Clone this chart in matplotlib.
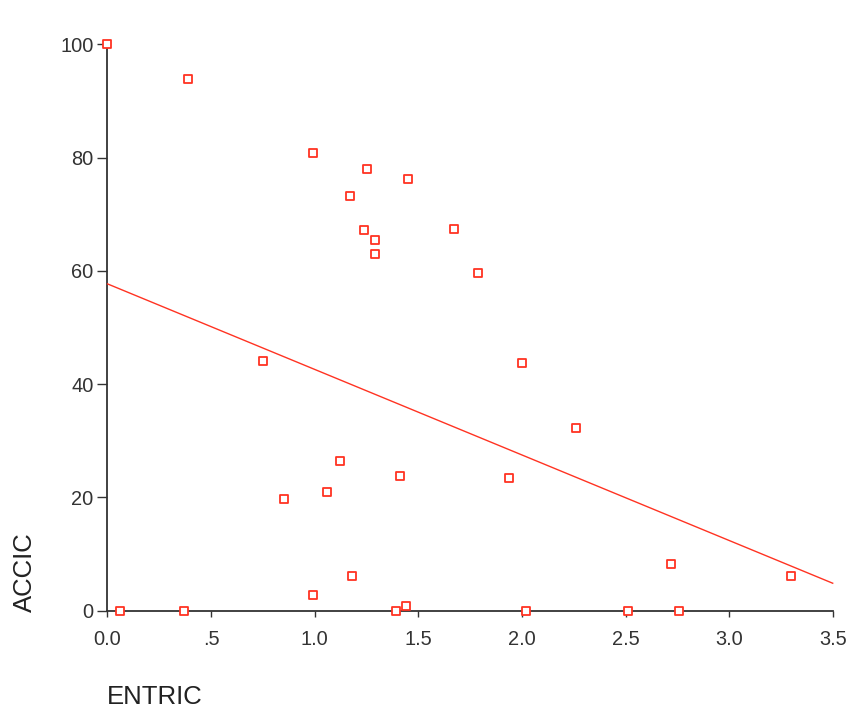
import numpy as np
import matplotlib
matplotlib.use("Agg")
import matplotlib.pyplot as plt

# valeurs
entric = [0.0, 0.39, 0.99, 1.25, 1.45, 1.17, 1.24, 1.29, 1.29, 1.67, 1.79,
          0.75, 0.85, 1.06, 1.12, 1.41, 1.18, 0.99, 0.06, 0.37, 1.39, 1.44,
          2.00, 2.26, 1.94, 2.72, 3.30, 2.02, 2.51, 2.76]
accic = [100.0, 93.8, 80.8, 77.9, 76.2, 73.2, 67.2, 65.5, 63.0, 67.4, 59.6,
         44.0, 19.8, 20.9, 26.5, 23.7, 6.2, 2.8, 0.0, 0.0, 0.0, 0.8,
         43.8, 32.2, 23.5, 8.2, 6.2, 0.0, 0.0, 0.0]

# droite de régression (lue : ordonnée 57.7, fin 4.8 à x=3.5)
intercept = 57.7
slope = -15.1

xticks = [0.0, 0.5, 1.0, 1.5, 2.0, 2.5, 3.0, 3.5]
xticklabels = ["0.0", ".5", "1.0", "1.5", "2.0", "2.5", "3.0", "3.5"]
yticks = [0, 20, 40, 60, 80, 100]

rouge = "#ff3322"
plt.rcParams['font.family'] = ['Liberation Sans', 'DejaVu Sans']

fig = plt.figure(figsize=(8.52, 7.25), dpi=100)
ax = fig.add_axes([107.5 / 852, 1 - 610.7 / 725, (832.7 - 107.5) / 852, (610.7 - 44.3) / 725])

ax.scatter(entric, accic, marker="s", s=36, facecolors="white", edgecolors=rouge,
           linewidths=1.3, clip_on=False, zorder=3)
xl = np.array([0.0, 3.5])
ax.plot(xl, intercept + slope * xl, color=rouge, linewidth=1.0, clip_on=False, zorder=2)

ax.set_xlim(0, 3.5)
ax.set_ylim(0, 100)
ax.set_xticks(xticks)
ax.set_xticklabels(xticklabels)
ax.set_yticks(yticks)

for s in ["top", "right"]:
    ax.spines[s].set_visible(False)
for s in ["left", "bottom"]:
    ax.spines[s].set_color("#333333")
    ax.spines[s].set_linewidth(1.3)
    ax.spines[s].set_zorder(1)

ax.tick_params(axis="y", direction="out", length=7, width=1, colors="#333333",
               labelsize=14.4, pad=3)
ax.tick_params(axis="x", direction="out", length=4, width=1, colors="#333333",
               labelsize=14.4, pad=10)

fig.text(25 / 852, 1 - 611.7 / 725, "ACCIC", rotation=90, ha="center", va="bottom",
         fontsize=18.5, color="#222222")
fig.text(107 / 852, 1 - 697 / 725, "ENTRIC", ha="left", va="center",
         fontsize=18.5, color="#222222")

fig.savefig("out.png", dpi=100)
